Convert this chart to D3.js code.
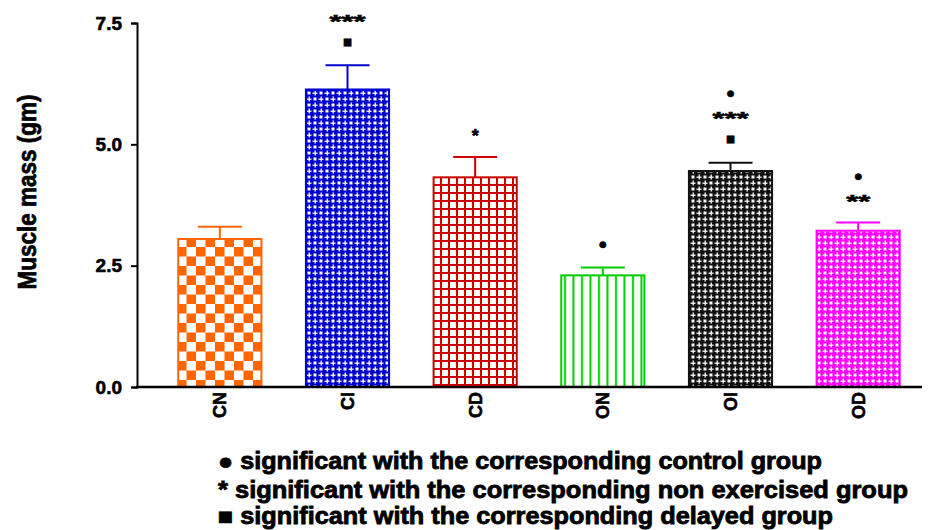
<!DOCTYPE html>
<html><head><meta charset="utf-8">
<script src="https://cdn.jsdelivr.net/npm/d3@7/dist/d3.min.js"></script>
<style>body{margin:0;background:#fff}svg{display:block}</style>
</head><body>
<svg id="c" width="933" height="530"></svg>
<script>
const categories = ["CN","CI","CD","ON","OI","OD"];
const means = [3.05, 6.13, 4.32, 2.30, 4.45, 3.22];
const errors = [0.25, 0.50, 0.42, 0.16, 0.17, 0.17];
const annotations = [[], ["■","***"], ["*"], ["●"], ["■","***","●"], ["**","●"]];
const yTicks = [0, 2.5, 5.0, 7.5];
const legendLines = ["● significant with the corresponding control group",
  "* significant with the corresponding non exercised group",
  "■ significant with the corresponding delayed group"];
const colors = ["#ff6600","#0000cc","#cc0000","#00cc00","#111111","#ff00ff"];
const patternKinds = ["checker","fancy","grid","vlines","fancy","fancy"];

const svg = d3.select("#c");
const font = "'Liberation Sans', Arial, sans-serif";
const defs = svg.append("defs");
categories.forEach((c,i)=>{
  const col = colors[i], k = patternKinds[i];
  if(k==="checker"){
    const p = defs.append("pattern").attr("id","p"+i).attr("patternUnits","userSpaceOnUse").attr("width",19).attr("height",19).attr("x",177).attr("y",0);
    p.append("rect").attr("width",19).attr("height",19).attr("fill","#fff");
    p.append("rect").attr("width",9.5).attr("height",9.5).attr("fill",col);
    p.append("rect").attr("x",9.5).attr("y",9.5).attr("width",9.5).attr("height",9.5).attr("fill",col);
  } else if(k==="grid"){
    const p = defs.append("pattern").attr("id","p"+i).attr("patternUnits","userSpaceOnUse").attr("width",8).attr("height",8);
    p.append("rect").attr("width",8).attr("height",8).attr("fill","#fff");
    p.append("rect").attr("x",0).attr("width",2).attr("height",8).attr("fill",col);
    p.append("rect").attr("y",0).attr("width",8).attr("height",2).attr("fill",col);
  } else if(k==="vlines"){
    const p = defs.append("pattern").attr("id","p"+i).attr("patternUnits","userSpaceOnUse").attr("width",8.5).attr("height",8);
    p.append("rect").attr("width",8.5).attr("height",8).attr("fill","#fff");
    p.append("rect").attr("x",3).attr("width",2).attr("height",8).attr("fill",col);
  } else {
    const p = defs.append("pattern").attr("id","p"+i).attr("patternUnits","userSpaceOnUse").attr("width",12).attr("height",12);
    p.append("rect").attr("width",12).attr("height",12).attr("fill",col);
    [[0,0],[6,6]].forEach(([x,y])=>p.append("rect").attr("x",x+1.5).attr("y",y+1.5).attr("width",3).attr("height",3).attr("fill","#fff"));
    [[6,0],[0,6]].forEach(([x,y])=>{
      p.append("rect").attr("x",x+2.5).attr("y",y+0.5).attr("width",1.5).attr("height",5).attr("fill","#fff").attr("opacity",0.85);
      p.append("rect").attr("x",x+0.5).attr("y",y+2.5).attr("width",5).attr("height",1.5).attr("fill","#fff").attr("opacity",0.85);
    });
  }
});

const x = d3.scaleBand().domain(categories).range([156,922]).paddingInner(0.333).paddingOuter(0.1665);
const y = d3.scaleLinear().domain([0,7.5]).range([387,23]);

// bars
const g = svg.append("g");
const symStyle = {"■":{fs:15, c:0.36}, "●":{fs:15, c:0.34}, "*":{fs:18, c:0.52}};
categories.forEach((c,i)=>{
  g.append("rect").attr("x",x(c)+1).attr("y",y(means[i])).attr("width",x.bandwidth()-2).attr("height",y(0)-y(means[i]))
    .attr("fill",`url(#p${i})`).attr("stroke",colors[i]).attr("stroke-width",2);
  const cx = x(c)+x.bandwidth()/2;
  const top = y(means[i]+errors[i]);
  g.append("line").attr("x1",cx).attr("x2",cx).attr("y1",y(means[i])).attr("y2",top).attr("stroke",colors[i]).attr("stroke-width",2);
  g.append("line").attr("x1",cx-22).attr("x2",cx+22).attr("y1",top).attr("y2",top).attr("stroke",colors[i]).attr("stroke-width",2);
  annotations[i].forEach((s,k)=>{
    const st = symStyle[s[0]];
    const centerY = top - 24 - k*23;
    const t = g.append("text").attr("x",cx).attr("y",centerY + st.c*st.fs).attr("text-anchor","middle")
      .attr("font-family",font).attr("font-weight","bold").attr("font-size",st.fs).attr("fill","#000")
      .attr("stroke","#000").attr("stroke-width",0.6).text(s);
    if(s[0]==="*" && s.length>1) t.attr("textLength",12*s.length).attr("lengthAdjust","spacingAndGlyphs");
  });
});

// y axis
const ya = svg.append("g").attr("transform","translate(137,0)").call(d3.axisLeft(y).tickValues(yTicks).tickFormat(d3.format(".1f")).tickSize(6));
ya.select(".domain").attr("stroke","#000").attr("stroke-width",2);
ya.selectAll(".tick line").attr("stroke","#000").attr("stroke-width",2);
ya.selectAll(".tick text").attr("font-family",font).attr("font-weight","bold").attr("font-size",19).attr("fill","#000")
  .attr("stroke","#000").attr("stroke-width",0.6).attr("x",-15);

// x axis
const xa = svg.append("g").attr("transform","translate(0,387)").call(d3.axisBottom(x).tickSize(0).tickFormat(""));
xa.select(".domain").attr("d","M136,0H922").attr("stroke","#000").attr("stroke-width",2.5);
categories.forEach(c=>{
  svg.append("text").attr("transform",`translate(${x(c)+x.bandwidth()/2},392) rotate(-90)`).attr("text-anchor","end").attr("dy","0.36em")
    .attr("font-family",font).attr("font-weight","bold").attr("font-size",18).attr("fill","#000")
    .attr("stroke","#000").attr("stroke-width",0.6).text(c);
});

// y title
svg.append("text").attr("transform","translate(27,192) rotate(-90)").attr("text-anchor","middle").attr("dy","0.36em")
  .attr("font-family",font).attr("font-weight","bold").attr("font-size",25).attr("fill","#000")
  .attr("stroke","#000").attr("stroke-width",0.7)
  .attr("textLength",195).attr("lengthAdjust","spacingAndGlyphs").text("Muscle mass (gm)");

// legend
const lw = [604, 690, 615];
const ly = [461, 490, 516];
legendLines.forEach((t,i)=>{
  svg.append("text").attr("x",218).attr("y",ly[i]).attr("dy","0.36em").attr("font-family",font).attr("font-weight","bold").attr("font-size",23)
    .attr("fill","#000").attr("stroke","#000").attr("stroke-width",0.8)
    .attr("textLength",lw[i]).attr("lengthAdjust","spacingAndGlyphs").text(t);
});
</script>
</body></html>
